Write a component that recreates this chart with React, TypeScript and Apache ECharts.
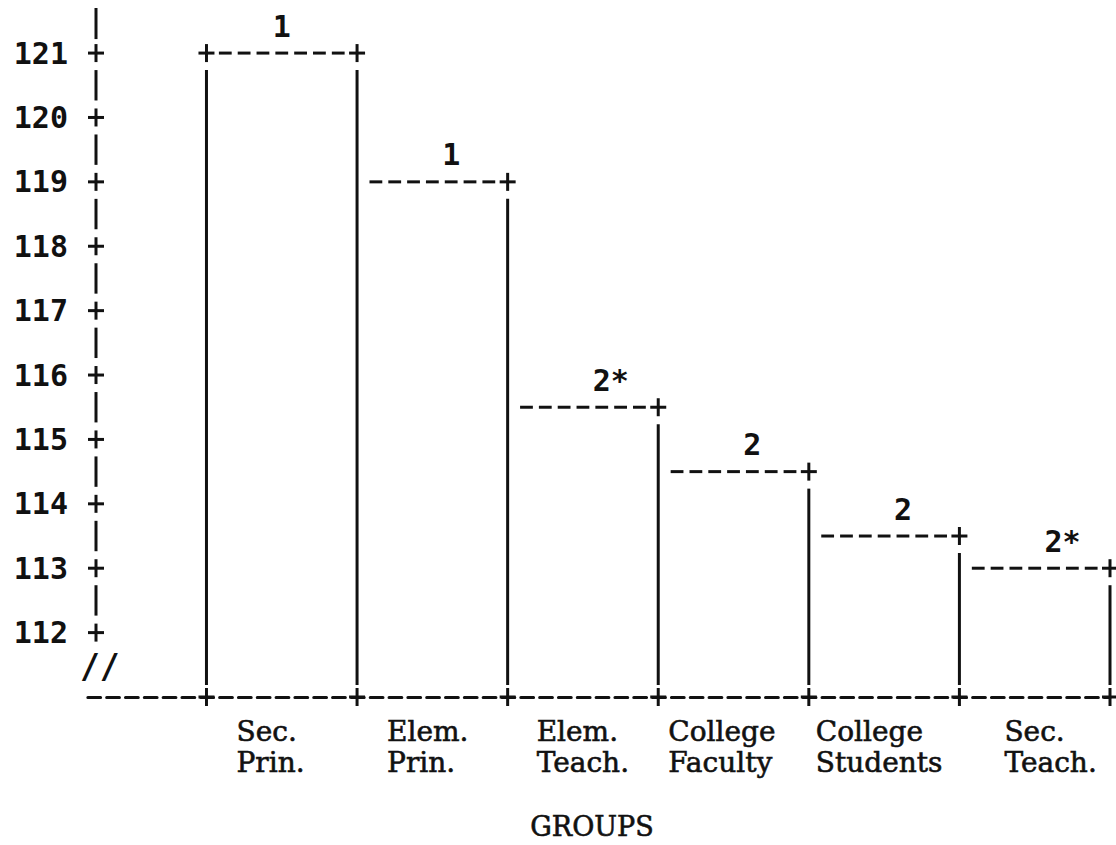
import React, { useEffect, useRef } from 'react';
import * as echarts from 'echarts';

// ---- data ----
const categories = ['Sec.\nPrin.', 'Elem.\nPrin.', 'Elem.\nTeach.', 'College\nFaculty', 'College\nStudents', 'Sec.\nTeach.'];
const groupMeans = [121, 119, 115.5, 114.5, 113.5, 113];
const subsetLabels = ['1', '1', '2*', '2', '2', '2*'];
const yTickValues = [112, 113, 114, 115, 116, 117, 118, 119, 120, 121];
const axisTitle = 'GROUPS';

// ---- scale extents / style ----
const Y_MIN = 111;
const Y_MAX = 121.7;
const X_MIN = -0.8;
const X_MAX = 6;
const INK = '#111';
const SERIF = '"DejaVu Serif", "Liberation Serif", serif';
const MONO_SANS = '"DejaVu Sans Mono", monospace';
const LABEL_INDENT = [30, 30, 29, 10, 7, 45];

function seg(x1: number, y1: number, x2: number, y2: number) {
  return { type: 'line', silent: true, shape: { x1, y1, x2, y2 }, style: { stroke: INK, lineWidth: 3 } };
}
function plus(x: number, y: number) {
  return [seg(x - 8, y, x + 8, y), seg(x, y - 9, x, y + 9)];
}

export default function App() {
  const ref = useRef<HTMLDivElement>(null);
  useEffect(() => {
    if (!ref.current) return;
    const chart = echarts.init(ref.current, null, { renderer: 'svg' });
    const rich: Record<string, any> = {};
    categories.forEach((_, i) => {
      rich['c' + i] = {
        fontFamily: SERIF,
        fontSize: 28,
        color: INK,
        lineHeight: 31,
        textBorderColor: INK,
        textBorderWidth: 0.6,
        padding: [0, 0, 0, LABEL_INDENT[i]],
      };
    });
    const option: any = {
      animation: false,
      backgroundColor: '#fff',
      grid: { left: 86, right: 6, top: 8, bottom: 148, outerBoundsMode: 'none', containLabel: false },
      xAxis: {
        type: 'value',
        min: X_MIN,
        max: X_MAX,
        axisLine: { show: true, lineStyle: { color: INK, width: 3, type: [12.8, 6.025], dashOffset: 17.2 } },
        axisTick: { show: false },
        splitLine: { show: false },
        axisLabel: {
          customValues: categories.map((_, i) => i),
          align: 'left',
          margin: 19,
          showMinLabel: true,
          showMaxLabel: true,
          hideOverlap: false,
          formatter: (val: number) => {
            const i = Math.round(val);
            return categories[i].split('\n').map((l) => `{c${i}|${l}}`).join('\n');
          },
          rich,
        },
        name: axisTitle,
        nameLocation: 'middle',
        nameGap: 116,
        nameTextStyle: {
          fontFamily: SERIF,
          fontSize: 27,
          color: INK,
          textBorderColor: INK,
          textBorderWidth: 0.6,
          padding: [0, 12, 0, 0],
        },
      },
      yAxis: {
        type: 'value',
        min: Y_MIN,
        max: Y_MAX,
        offset: -10,
        axisLine: { show: false },
        axisTick: { show: false },
        splitLine: { show: false },
        axisLabel: {
          customValues: yTickValues,
          margin: 28,
          fontFamily: MONO_SANS,
          fontSize: 30,
          fontWeight: 'bold',
          color: INK,
          showMinLabel: true,
          showMaxLabel: true,
        },
      },
      graphic: [
        { type: 'text', left: 80, top: 650, style: { text: '//', font: `bold 33px ${MONO_SANS}`, fill: INK } },
      ],
      series: [
        {
          type: 'custom',
          name: 'y axis',
          clip: false,
          silent: true,
          data: yTickValues.map((v) => [X_MIN, v]),
          renderItem: (params: any, api: any) => {
            const v = api.value(1);
            const p = api.coord([X_MIN, v]);
            const x = p[0] + 10;
            const y = p[1];
            const children: any[] = plus(x, y);
            if (v + 1 <= Y_MAX) {
              const yn = api.coord([X_MIN, v + 1])[1];
              children.push(seg(x, yn + 17, x, y - 17));
            } else {
              const yt = api.coord([X_MIN, Y_MAX])[1];
              children.push(seg(x, yt, x, y - 14));
            }
            return { type: 'group', children };
          },
        },
        {
          type: 'custom',
          name: 'Group means',
          clip: false,
          data: groupMeans.map((v, i) => [i, v]),
          renderItem: (params: any, api: any) => {
            const idx = params.dataIndex;
            const i = api.value(0);
            const v = api.value(1);
            const tl = api.coord([i, v]);
            const tr = api.coord([i + 1, v]);
            const bl = api.coord([i, Y_MIN]);
            const left = tl[0];
            const right = tr[0];
            const top = tl[1];
            const base = bl[1];
            const pitch = (right - left) / 8;
            const children: any[] = [];
            for (let c = 1; c <= 7; c++) {
              const cx = left + c * pitch;
              children.push(seg(cx - 6.4, top, cx + 6.4, top));
            }
            children.push(...plus(right, top));
            children.push(seg(right, top + 17, right, base - 12));
            children.push(...plus(right, base));
            if (idx === 0) {
              children.push(...plus(left, top));
              children.push(seg(left, top + 17, left, base - 12));
              children.push(...plus(left, base));
            }
            const col = idx === 0 ? 4 : 5;
            children.push({
              type: 'text',
              silent: true,
              x: left + col * pitch - 9,
              y: top - 27,
              style: {
                text: subsetLabels[idx],
                fill: INK,
                font: `bold 30px ${MONO_SANS}`,
                textAlign: 'left',
                textVerticalAlign: 'middle',
                align: 'left',
                verticalAlign: 'middle',
              },
            });
            return { type: 'group', children };
          },
        },
      ],
    };
    chart.setOption(option);
    return () => chart.dispose();
  }, []);
  return <div ref={ref} style={{ position: 'absolute', left: 0, top: 0, width: 1116, height: 845 }} />;
}
